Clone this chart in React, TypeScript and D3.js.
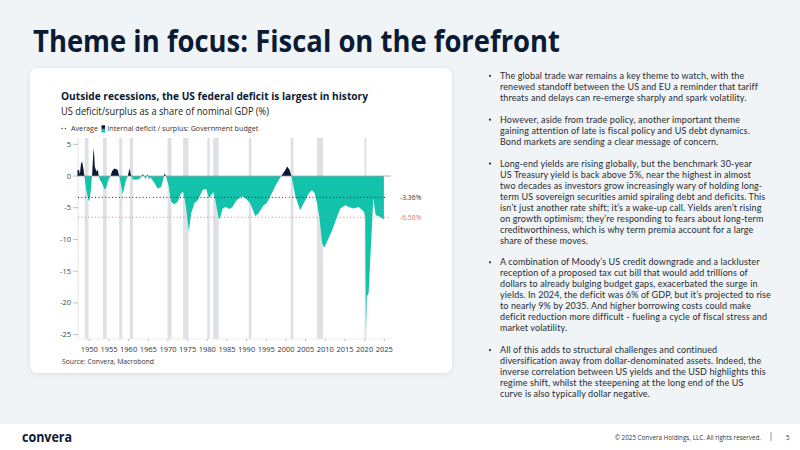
import React, { useEffect } from "react";
import * as d3 from "d3";

// ---- Data ----
const years = [
  1947.0, 1947.4, 1947.6, 1947.9, 1948.2, 1948.5, 1948.75, 1949.2, 1949.7, 1950.0,
  1950.4, 1950.7, 1951.0, 1951.15, 1951.4, 1951.8, 1952.2, 1952.4, 1952.7, 1953.3,
  1953.8, 1954.2, 1954.9, 1955.4, 1955.8, 1956.4, 1957.2, 1957.6, 1958.1, 1958.5,
  1959.3, 1959.8, 1960.2, 1960.6, 1961.0, 1961.8, 1962.5, 1963.0, 1963.6, 1963.9,
  1964.3, 1964.8, 1965.1, 1965.5, 1966.5, 1967.4, 1968.3, 1968.8, 1969.1, 1969.5,
  1970.2, 1970.8, 1971.6, 1972.5, 1973.3, 1973.9, 1974.6, 1975.3, 1975.9, 1976.7,
  1977.6, 1978.8, 1979.7, 1980.4, 1981.0, 1981.6, 1982.2, 1982.9, 1983.2, 1983.9,
  1984.7, 1985.6, 1986.4, 1987.2, 1988.0, 1988.9, 1989.7, 1990.9, 1992.2, 1993.0,
  1994.3, 1995.1, 1996.4, 1997.7, 1998.8, 1999.8, 2000.3, 2000.9, 2001.4, 2002.4,
  2003.6, 2004.5, 2005.8, 2006.6, 2007.3, 2007.9, 2008.5, 2009.2, 2009.7, 2010.5,
  2011.7, 2013.0, 2013.8, 2015.1, 2015.9, 2017.2, 2018.5, 2019.8, 2020.15, 2020.35,
  2020.55, 2021.0, 2022.2, 2022.8, 2023.5, 2024.3, 2024.9,
];
const deficit = [
  1.0, 0.9, 0.3, 2.0, 2.2, 1.2, 0.0, -2.0, -3.6, -4.0,
  -2.2, 0.0, 3.5, 4.4, 1.5, 0.7, 1.0, 0.0, -0.6, -1.2,
  -2.0, -2.0, -0.5, 0.0, 0.8, 1.2, 1.0, 0.0, -1.5, -2.9,
  -0.7, 0.0, 1.2, 0.2, -0.5, -0.6, -0.5, -0.3, 0.3, 0.0,
  -0.5, 0.3, -0.6, -0.2, -1.0, -2.0, -1.7, -0.5, 0.4, 0.0,
  -1.6, -4.0, -4.5, -4.0, -2.7, -2.5, -4.9, -8.7, -5.9, -4.3,
  -3.8, -2.2, -2.0, -3.5, -3.0, -2.5, -4.3, -6.7, -6.7, -5.1,
  -4.9, -5.2, -4.9, -4.0, -3.5, -3.2, -3.5, -4.3, -6.3, -5.9,
  -4.6, -4.3, -2.7, -1.1, 0.0, 0.9, 1.5, 1.0, 0.0, -3.2,
  -5.4, -4.3, -2.7, -2.2, -2.7, -4.3, -6.4, -10.6, -11.3, -10.3,
  -8.6, -6.4, -5.1, -4.6, -4.9, -5.1, -4.9, -5.6, -6.4, -24.8,
  -19.0, -18.5, -3.5, -6.2, -6.3, -6.6, -6.8,
];
const recessionStart = [1948.83, 1953.5, 1957.6, 1960.3, 1969.9, 1973.85, 1980.0, 1981.5, 1990.55, 2001.2, 2007.9, 2019.98];
const recessionEnd = [1949.8, 1954.4, 1958.4, 1961.1, 1970.9, 1975.2, 1980.6, 1982.9, 1991.2, 2001.9, 2009.4, 2020.42];
const averageValues = [-3.36, -6.5];
const averageLabels = ["-3.36%", "-6.50%"];
const xTicks = [1950, 1955, 1960, 1965, 1970, 1975, 1980, 1985, 1990, 1995, 2000, 2005, 2010, 2015, 2020, 2025];
const yTicks = [5, 0, -5, -10, -15, -20, -25];

const paragraphs = [
  [
    "The global trade war remains a key theme to watch, with the",
    "renewed standoff between the US and EU a reminder that tariff",
    "threats and delays can re-emerge sharply and spark volatility.",
  ],
  [
    "However, aside from trade policy, another important theme",
    "gaining attention of late is fiscal policy and US debt dynamics.",
    "Bond markets are sending a clear message of concern.",
  ],
  [
    "Long-end yields are rising globally, but the benchmark 30-year",
    "US Treasury yield is back above 5%, near the highest in almost",
    "two decades as investors grow increasingly wary of holding long-",
    "term US sovereign securities amid spiraling debt and deficits. This",
    "isn\u2019t just another rate shift; it\u2019s a wake-up call. Yields aren\u2019t rising",
    "on growth optimism; they\u2019re responding to fears about long-term",
    "creditworthiness, which is why term premia account for a large",
    "share of these moves.",
  ],
  [
    "A combination of Moody\u2019s US credit downgrade and a lackluster",
    "reception of a proposed tax cut bill that would add trillions of",
    "dollars to already bulging budget gaps, exacerbated the surge in",
    "yields. In 2024, the deficit was 6% of GDP, but it\u2019s projected to rise",
    "to nearly 9% by 2035. And higher borrowing costs could make",
    "deficit reduction more difficult - fueling a cycle of fiscal stress and",
    "market volatility.",
  ],
  [
    "All of this adds to structural challenges and continued",
    "diversification away from dollar-denominated assets. Indeed, the",
    "inverse correlation between US yields and the USD highlights this",
    "regime shift, whilst the steepening at the long end of the US",
    "curve is also typically dollar negative.",
  ],
];

const NAVY = "#0b1b33";
const TEAL = "#12c2ab";
const FONT = "'Open Sans', 'Noto Sans', sans-serif";
const BODY_FONT = "Lato, 'Open Sans', sans-serif";

export default function App() {
  useEffect(() => {
    document.body.style.margin = "0";
  }, []);

  const x = d3.scaleLinear().domain([1950, 2025]).range([89.3, 384.3]);
  const y = d3.scaleLinear().domain([6, -25.7]).range([138, 339]);
  const plotLeft = 78;
  const plotRight = 391;

  const area = d3
    .area<number>()
    .x((_, i) => x(years[i]))
    .y0(y(0))
    .y1((d) => y(d));
  const areaPath = area(deficit) || "";

  // bullet lines layout
  const lines: { text: string; n: number; first: boolean }[] = [];
  let n = 0;
  paragraphs.forEach((p) => {
    p.forEach((t, i) => {
      lines.push({ text: t, n, first: i === 0 });
      n += 1;
    });
    n += 1;
  });

  return (
    <svg
      width={800}
      height={450}
      style={{ position: "absolute", left: 0, top: 0, display: "block" }}
      fontFamily={FONT}
    >
      <defs>
        <filter id="shadow" x="-5%" y="-5%" width="110%" height="110%">
          <feDropShadow dx="0" dy="1" stdDeviation="2.5" floodColor="#000" floodOpacity="0.1" />
        </filter>
        <clipPath id="above">
          <rect x={0} y={0} width={800} height={y(0)} />
        </clipPath>
        <clipPath id="below">
          <rect x={0} y={y(0)} width={800} height={450 - y(0)} />
        </clipPath>
      </defs>

      {/* background */}
      <rect x={0} y={0} width={800} height={450} fill="#f1f4f6" />
      <rect x={0} y={424} width={800} height={26} fill="#ffffff" />

      {/* main title */}
      <text
        x={33}
        y={52}
        fontSize={30}
        fontWeight={700}
        fill={NAVY}
        textLength={527}
        lengthAdjust="spacingAndGlyphs"
      >
        Theme in focus: Fiscal on the forefront
      </text>

      {/* chart card */}
      <rect x={30} y={68} width={422} height={305} rx={8} fill="#ffffff" filter="url(#shadow)" />

      <text x={61} y={100} fontSize={11} fontWeight={700} fill={NAVY} textLength={307} lengthAdjust="spacingAndGlyphs">
        Outside recessions, the US federal deficit is largest in history
      </text>
      <text x={61} y={115} fontSize={10} fill="#222" textLength={208} lengthAdjust="spacingAndGlyphs">
        US deficit/surplus as a share of nominal GDP (%)
      </text>

      {/* legend */}
      <g>
        <circle cx={62} cy={128.5} r={0.7} fill="#333" />
        <circle cx={65.5} cy={128.5} r={0.7} fill="#333" />
        <text x={71} y={131} fontSize={7.5} fill="#333" textLength={27} lengthAdjust="spacingAndGlyphs">
          Average
        </text>
        <rect x={101.5} y={125.3} width={3.6} height={3.6} fill={NAVY} />
        <rect x={101.5} y={128.9} width={3.6} height={3.6} fill={TEAL} />
        <text x={107.3} y={131} fontSize={7.5} fill="#333" textLength={151} lengthAdjust="spacingAndGlyphs">
          Internal deficit / surplus: Government budget
        </text>
      </g>

      {/* recession bands */}
      {recessionStart.map((s, i) => (
        <rect
          key={"r" + i}
          x={x(s)}
          y={y(6)}
          width={Math.max(1.5, x(recessionEnd[i]) - x(s))}
          height={y(-25.7) - y(6)}
          fill="#dfe0e6"
        />
      ))}

      {/* axes */}
      <line x1={plotLeft} x2={plotLeft} y1={y(6)} y2={y(-25.7)} stroke="#dcdcdc" strokeWidth={0.8} />
      {yTicks.map((t) => (
        <g key={"yt" + t}>
          <line x1={73} x2={plotLeft} y1={y(t)} y2={y(t)} stroke="#999" strokeWidth={0.6} />
          <text x={71} y={y(t) + 2.6} fontSize={7.5} fill="#444" textAnchor="end">
            {t}
          </text>
        </g>
      ))}
      <line x1={plotLeft} x2={plotRight} y1={y(-25.7)} y2={y(-25.7)} stroke="#e2e2e2" strokeWidth={0.6} />
      {xTicks.map((t) => (
        <g key={"xt" + t}>
          <line x1={x(t)} x2={x(t)} y1={y(-25.7)} y2={y(-25.7) + 2} stroke="#999" strokeWidth={0.6} />
          <text x={x(t)} y={352} fontSize={7.5} fill="#333" textAnchor="middle">
            {t}
          </text>
        </g>
      ))}

      {/* series */}
      <path d={areaPath} fill={NAVY} clipPath="url(#above)" />
      <path d={areaPath} fill={TEAL} clipPath="url(#below)" />

      {/* zero line */}
      <line x1={plotLeft} x2={plotRight} y1={y(0)} y2={y(0)} stroke="#9a9ea5" strokeWidth={0.8} />

      {/* averages */}
      <line
        x1={plotLeft}
        x2={386}
        y1={y(averageValues[0])}
        y2={y(averageValues[0])}
        stroke="#222"
        strokeWidth={1}
        strokeDasharray="1 2.4"
      />
      <line
        x1={plotLeft}
        x2={plotRight}
        y1={y(averageValues[1])}
        y2={y(averageValues[1])}
        stroke="#ec7a78"
        strokeWidth={1}
        strokeDasharray="1 2.4"
      />
      <text x={400} y={y(averageValues[0]) + 2.4} fontSize={6.8} fill="#333">
        {averageLabels[0]}
      </text>
      <text x={400} y={y(averageValues[1]) + 2.4} fontSize={6.8} fill="#ec6f6c">
        {averageLabels[1]}
      </text>

      <text x={62} y={364} fontSize={6.8} fill="#333">
        Source: Convera, Macrobond
      </text>

      {/* bullets */}
      {lines.map((l, i) => (
        <g key={"l" + i} fontFamily={BODY_FONT}>
          {l.first && (
            <circle cx={490} cy={79 + l.n * 10.97 - 3.2} r={1.1} fill="#2a2f38" />
          )}
          <text x={500} y={79 + l.n * 10.97} fontSize={9} fill="#262b33" letterSpacing={0.12}>
            {l.text}
          </text>
        </g>
      ))}

      {/* footer */}
      <text x={22} y={442} fontSize={15} fontWeight={700} fill={NAVY} textLength={50} lengthAdjust="spacingAndGlyphs">
        convera
      </text>
      <text x={761} y={439.5} fontSize={6.3} fill="#333" textAnchor="end">
        © 2025 Convera Holdings, LLC. All rights reserved.
      </text>
      <line x1={771} x2={771} y1={432} y2={441} stroke="#555" strokeWidth={0.6} />
      <text x={786} y={439.5} fontSize={6.3} fill="#333">
        5
      </text>
    </svg>
  );
}
